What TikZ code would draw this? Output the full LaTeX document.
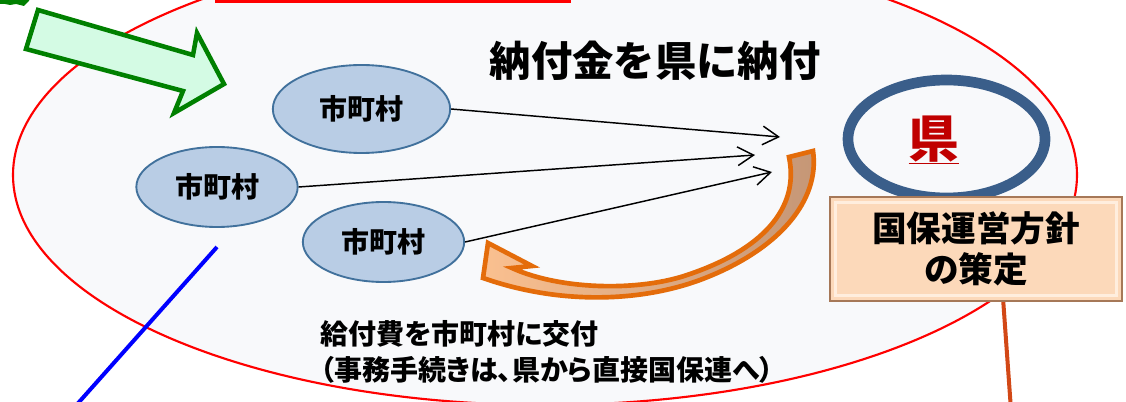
\documentclass[tikz,border=0pt]{standalone}
\usepackage{fontspec}
\setmainfont{Noto Sans CJK JP}
\newfontfamily\jpprop{Noto Sans CJK JP}[RawFeature=+palt]
\usetikzlibrary{shapes.geometric,arrows.meta}

\definecolor{areafill}{RGB}{248,249,251}
\definecolor{townfill}{RGB}{185,205,229}
\definecolor{townedge}{RGB}{65,113,156}
\definecolor{prefedge}{RGB}{58,94,138}
\definecolor{prefred}{RGB}{192,0,0}
\definecolor{arrowgreen}{RGB}{0,128,0}
\definecolor{mintfill}{RGB}{212,251,228}
\definecolor{flowedge}{RGB}{228,108,10}
\definecolor{flowlight}{RGB}{250,192,144}
\definecolor{flowdark}{RGB}{196,150,118}
\definecolor{peach}{RGB}{252,217,186}
\definecolor{peachlight}{RGB}{255,238,222}
\definecolor{peachedge}{RGB}{166,120,88}
\definecolor{linkred}{RGB}{210,72,22}

\tikzset{
  town/.style={ellipse, draw=townedge, fill=townfill, line width=1.4pt, inner sep=0pt,
    minimum width=121pt, minimum height=60pt, font=\fontsize{21}{24}\selectfont\bfseries},
  pay/.style={line width=1.1pt, -{Straight Barb[length=12pt,width=14pt]}},
  policybox/.style={rectangle, fill=peach, draw=peachedge, line width=1.5pt, inner sep=0pt,
    minimum width=219pt, minimum height=78pt, align=center,
    font=\fontsize{26}{31}\selectfont\bfseries,
    path picture={\draw[peachlight, line width=2.5pt]
      ([xshift=4pt,yshift=-4pt]path picture bounding box.north west) rectangle
      ([xshift=-4pt,yshift=4pt]path picture bounding box.south east);}}
}

\begin{document}
\begin{tikzpicture}[x=0.75pt,y=0.75pt,yscale=-1,xscale=1]
\useasboundingbox (0,0) rectangle (1126,402);
\clip (0,0) rectangle (1126,402);

%Shape: Ellipse (area)
\draw [draw=red, fill=areafill, line width=1.6pt] (545,175) ellipse [x radius=532, y radius=230];
%Shape: Rectangle (cut at top)
\draw [red, line width=2pt] (216,-40) rectangle (570,1.3);
%Shape: Polygon (cut at top left)
\fill [arrowgreen] (0,-5) -- (31,-5) -- (29,1) -- (24,6) -- (16,4) -- (10,5) -- (5,4) -- (0,4) -- cycle;
%Shape: Right Arrow
\draw [arrowgreen, fill=mintfill, line width=3.4pt, line join=miter] (38,10) -- (193,55) -- (197,33) -- (224,84) -- (174,113) -- (183,91) -- (26,49) -- cycle;

%Shape: Ellipse
\node (townA) [town, minimum width=133pt, minimum height=66pt] at (361.5,109) {市町村};
%Shape: Ellipse
\node (townB) [town] at (217,187) {市町村};
%Shape: Ellipse
\node (townC) [town] at (383.5,242) {市町村};

\coordinate (tipA) at (780,137);
\coordinate (tipB) at (755,155);
\coordinate (tipC) at (772,172);
%Straight Lines
\draw [pay] (townA.east) -- (tipA);
\draw [pay] (townB.east) -- (tipB);
\draw [pay] (townC.east) -- (tipC);

%Shape: Curved Arrow
\draw [draw=flowedge, left color=flowlight, middle color=flowlight, right color=flowdark, line width=3.5pt, line join=miter]
  (813,151) .. controls (820,200) and (780,250) .. (700,280)
  .. controls (640,302) and (560,305) .. (483,278)
  -- (488,243) -- (532,266) -- (512,268)
  .. controls (560,290) and (640,292) .. (690,274)
  .. controls (760,250) and (800,210) .. (789,157) -- cycle;

%Shape: Ellipse (prefecture)
\node (pref) [ellipse, draw=prefedge, line width=8pt, minimum width=147.75pt, minimum height=88.5pt] at (946.5,139) {};
% Text Node
\draw (934,140) node (prefName) [text=prefred, inner sep=0.75pt, font=\fontsize{38}{40}\selectfont\bfseries] {\underline{県}};

%Straight Lines
\coordinate (blueTop) at (217,247);
\coordinate (blueEnd) at (72,410);
\draw [blue, line width=3pt] (blueTop) -- (blueEnd);
\coordinate (linkTop) at (1003,298);
\coordinate (linkEnd) at (1011,410);
\draw [linkred, line width=3pt] (linkTop) -- (linkEnd);

%Shape: Bevel
\node (policy) [policybox] at (976,249) {国保運営方針\\の策定};

% Text Node
\draw (655,61) node (payTitle) [inner sep=0.75pt, font=\fontsize{31}{36}\selectfont\bfseries] {納付金を県に納付};
% Text Node
\draw (319,319) node (grantText) [anchor=north west, inner sep=0.75pt, align=left, font=\jpprop\bfseries\fontsize{21}{27.5}\selectfont] {給付費を市町村に交付\\（事務手続きは、県から直接国保連へ）};
\end{tikzpicture}
\end{document}
